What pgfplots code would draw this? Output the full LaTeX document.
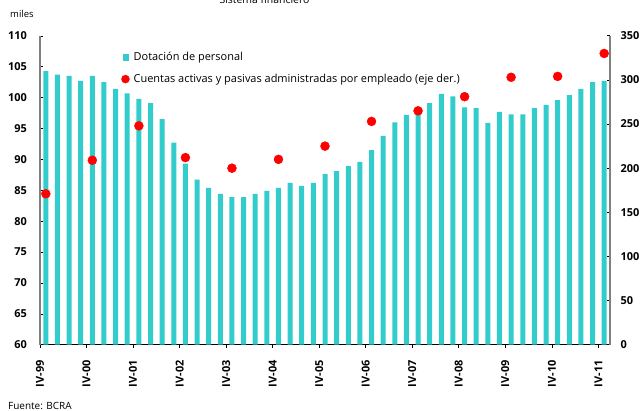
\documentclass[border=0pt]{standalone}
\usepackage{pgfplots}
\pgfplotsset{compat=1.18}
\usepackage{pgfplotstable}
\usepackage{fontspec}
\setmainfont{Open Sans}
\definecolor{barcol}{HTML}{33CCCC}
\definecolor{dotred}{HTML}{FF0000}
\definecolor{axgray}{HTML}{808080}
\pgfplotstableread{
x y
0 104.3
1 103.7
2 103.5
3 102.7
4 103.5
5 102.5
6 101.4
7 100.7
8 99.8
9 99.1
10 96.5
11 92.7
12 89.3
13 86.7
14 85.4
15 84.4
16 83.9
17 83.9
18 84.4
19 84.9
20 85.4
21 86.2
22 85.7
23 86.2
24 87.6
25 88.1
26 88.9
27 89.6
28 91.5
29 93.8
30 96.0
31 97.2
32 97.4
33 99.1
34 100.6
35 100.2
36 98.4
37 98.3
38 95.9
39 97.7
40 97.3
41 97.3
42 98.3
43 98.8
44 99.6
45 100.4
46 101.4
47 102.5
48 102.7
}\staff
\pgfplotstableread{
x y
0 171
4 209
8 248
12 212
16 200
20 210
24 225
28 253
32 265
36 281
40 303
44 304
48 330
}\cuentas
\begin{document}
\begin{tikzpicture}
\useasboundingbox (0bp,0bp) rectangle (640bp,411bp);
\node[anchor=base, font=\fontsize{10.5}{12}\selectfont, inner sep=0pt] at (264.5bp,407bp) {Sistema financiero};
\node[anchor=base west, font=\fontsize{9.5}{11}\selectfont, inner sep=0pt] at (10bp,393bp) {miles};
\node[anchor=base west, font=\fontsize{10}{11}\selectfont, inner sep=0pt] at (8bp,1.5bp) {Fuente: BCRA};
\begin{axis}[
  at={(40bp,66.3bp)}, anchor=south west,
  scale only axis, width=570bp, height=308.9bp,
  xmin=-0.5, xmax=48.5, ymin=60, ymax=110,
  axis y line*=left, axis x line*=bottom,
  x axis line style={-, black, line width=1pt},
  y axis line style={-, axgray, line width=1.2pt},
  tick align=inside, major tick length=3bp,
  tick style={black, line width=0.6pt},
  ytick={60,65,...,110},
  xtick={-0.5,3.5,...,47.5},
  xticklabels={IV-99,IV-00,IV-01,IV-02,IV-03,IV-04,IV-05,IV-06,IV-07,IV-08,IV-09,IV-10,IV-11},
  /pgf/number format/assume math mode=true,
  ticklabel style={font=\bfseries\fontsize{11}{13}\selectfont},
  xticklabel style={rotate=90, anchor=east},
  xticklabel shift=9bp,
  yticklabel shift=9.5bp,
  ybar, bar width=5bp,
]
\addplot[draw=none, fill=barcol] table[x=x,y=y] {\staff};
\end{axis}
\begin{axis}[
  at={(40bp,66.3bp)}, anchor=south west,
  scale only axis, width=570bp, height=308.9bp,
  xmin=-0.5, xmax=48.5, ymin=0, ymax=350,
  axis y line*=right, axis x line=none,
  y axis line style={-, axgray, line width=1.6pt},
  tick align=inside, major tick length=3bp,
  tick style={black, line width=0.6pt},
  ytick={0,50,...,350},
  /pgf/number format/assume math mode=true,
  ticklabel style={font=\bfseries\fontsize{11}{13}\selectfont},
  yticklabel shift=7bp,
  legend style={at={(0.137,0.960)}, anchor=north west, draw=none, fill=none,
    font=\fontsize{11}{13}\selectfont, row sep=8bp,
    /tikz/every even column/.append style={column sep=2bp}},
  legend cell align=left,
]
\addlegendimage{legend image code/.code={\fill[barcol] (0bp,-2.8bp) rectangle (5.5bp,2.8bp);}}
\addlegendentry{\hspace{2bp}Dotación de personal}
\addplot[only marks, mark=*, mark size=4.5bp, mark options={draw=dotred, fill=dotred},
  legend image code/.code={\fill[dotred] (2.75bp,0bp) circle (4bp);}]
  table[x=x,y=y] {\cuentas};
\addlegendentry{\hspace{2bp}Cuentas activas y pasivas administradas por empleado (eje der.)}
\end{axis}
\end{tikzpicture}
\end{document}
